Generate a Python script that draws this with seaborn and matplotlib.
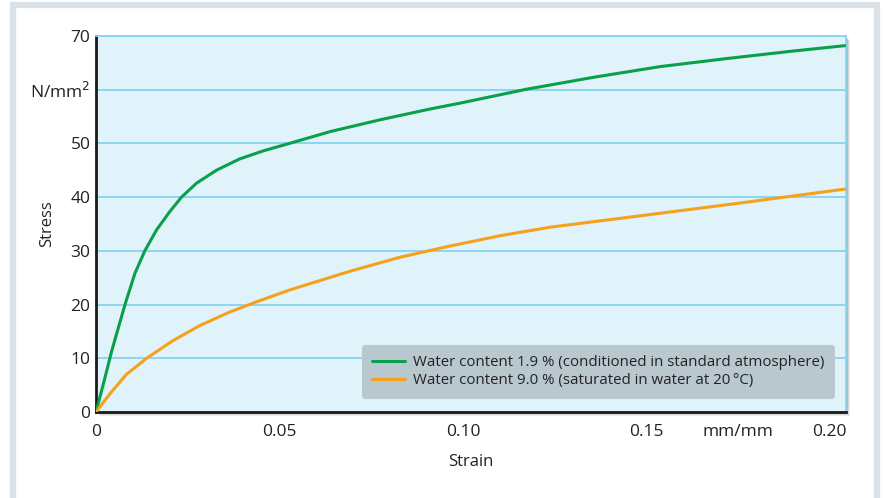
import matplotlib
matplotlib.use("Agg")
import matplotlib.pyplot as plt
from matplotlib.patches import Rectangle
import pandas as pd
import seaborn as sns

sns.set_style("white")
plt.rcParams["font.family"] = ["Open Sans", "DejaVu Sans"]

# values
strain_dry = [0, 0.002, 0.0043, 0.0079, 0.0106, 0.0133, 0.0165, 0.0201, 0.0233, 0.0274,
              0.0328, 0.0391, 0.0455, 0.0527, 0.0638, 0.0774, 0.091, 0.0992, 0.1174,
              0.1355, 0.1537, 0.1719, 0.190, 0.2041]
stress_dry = [0, 5.2, 11.4, 20.0, 25.8, 30.0, 33.9, 37.3, 40.0, 42.6,
              45.0, 47.1, 48.6, 50.0, 52.2, 54.4, 56.4, 57.5, 60.1,
              62.3, 64.3, 65.8, 67.2, 68.2]
strain_wet = [0, 0.0038, 0.0083, 0.0138, 0.021, 0.0283, 0.0364, 0.0437, 0.0527, 0.0692,
              0.0828, 0.0965, 0.110, 0.1237, 0.148, 0.1755, 0.2041]
stress_wet = [0, 3.4, 7.0, 10.0, 13.3, 16.1, 18.6, 20.5, 22.7, 26.2,
              28.8, 30.9, 32.8, 34.4, 36.5, 38.9, 41.5]
label_dry = "Water content 1.9 % (conditioned in standard atmosphere)"
label_wet = "Water content 9.0 % (saturated in water at 20\u2009\u00b0C)"

x_ticks = [0, 0.05, 0.10, 0.15, 0.20]
x_ticklabels = ["0", "0.05", "0.10", "0.15", "0.20"]
y_ticks = [0, 10, 20, 30, 40, 50, 60, 70]
y_ticklabels = ["0", "10", "20", "30", "40", "50", "N/mm$^2$", "70"]

df = pd.concat([
    pd.DataFrame({"Strain": strain_dry, "Stress": stress_dry, "Series": label_dry}),
    pd.DataFrame({"Strain": strain_wet, "Stress": stress_wet, "Series": label_wet}),
])

fig = plt.figure(figsize=(8.85, 4.98), dpi=100)
fig.patch.set_facecolor("white")
# grey outer frame
fig.patches.append(Rectangle((12.5 / 885, -0.05), 864 / 885, 1.05 - 5 / 498,
                             transform=fig.transFigure, facecolor="white",
                             edgecolor="#dce3e8", linewidth=4.5, zorder=0))

ax = fig.add_axes([96 / 885, 1 - 412 / 498, 750 / 885, 376 / 498])
# soft drop shadow behind the plot area
for off, a in [(4, 0.07), (3, 0.09), (2, 0.13)]:
    fig.patches.append(Rectangle(((96 + off) / 885, (86 - off) / 498), 750 / 885, 376 / 498,
                                 transform=fig.transFigure, facecolor="black",
                                 edgecolor="none", alpha=a, zorder=0.5))

ax.set_facecolor("#e0f2fa")
ax.set_zorder(1)

sns.lineplot(data=df, x="Strain", y="Stress", hue="Series",
             palette={label_dry: "#0a9f4a", label_wet: "#f5a11c"},
             linewidth=2.2, sort=False, estimator=None, ax=ax, zorder=3)

ax.set_xlim(0, 0.2044)
ax.set_ylim(0, 70)
ax.set_xticks(x_ticks)
ax.set_xticklabels(x_ticklabels, fontsize=12.5, color="#222222")
ax.set_xticks([0.175], minor=True)
ax.set_xticklabels(["mm/mm"], minor=True, fontsize=12.5, color="#222222")
ax.set_yticks(y_ticks)
ax.set_yticklabels(y_ticklabels, fontsize=12.5, color="#222222")
ax.tick_params(axis="x", which="major", direction="in", length=7, width=1,
               color="#86d3f0", pad=9)
ax.tick_params(axis="x", which="minor", length=0, pad=9)
ax.tick_params(axis="y", length=0, pad=4)
ax.grid(axis="y", color="#86d3f0", linewidth=1.3, zorder=1)
ax.grid(axis="x", visible=False)
ax.set_axisbelow(True)

ax.set_xlabel("Strain", fontsize=12, color="#222222", labelpad=10)
ax.set_ylabel("Stress", fontsize=12, color="#222222")
ax.yaxis.set_label_coords(-0.054, 0.5)

for side in ["left", "bottom"]:
    ax.spines[side].set_color("#1a1a1a")
    ax.spines[side].set_linewidth(2)
ax.spines["right"].set_color("#86d3f0")
ax.spines["right"].set_linewidth(1.2)
ax.spines["top"].set_color("#86d3f0")
ax.spines["top"].set_linewidth(1.3)

leg = ax.legend(loc="lower right", bbox_to_anchor=(0.985, 0.035), fontsize=10.8,
                frameon=True, fancybox=True, handlelength=2.2, handletextpad=0.5,
                borderpad=0.7, labelspacing=0.2, borderaxespad=0)
frame = leg.get_frame()
frame.set_facecolor("#b9c8cf")
frame.set_edgecolor("none")
frame.set_alpha(1)
for t in leg.get_texts():
    t.set_color("#222222")

fig.savefig("out.png", dpi=100)
